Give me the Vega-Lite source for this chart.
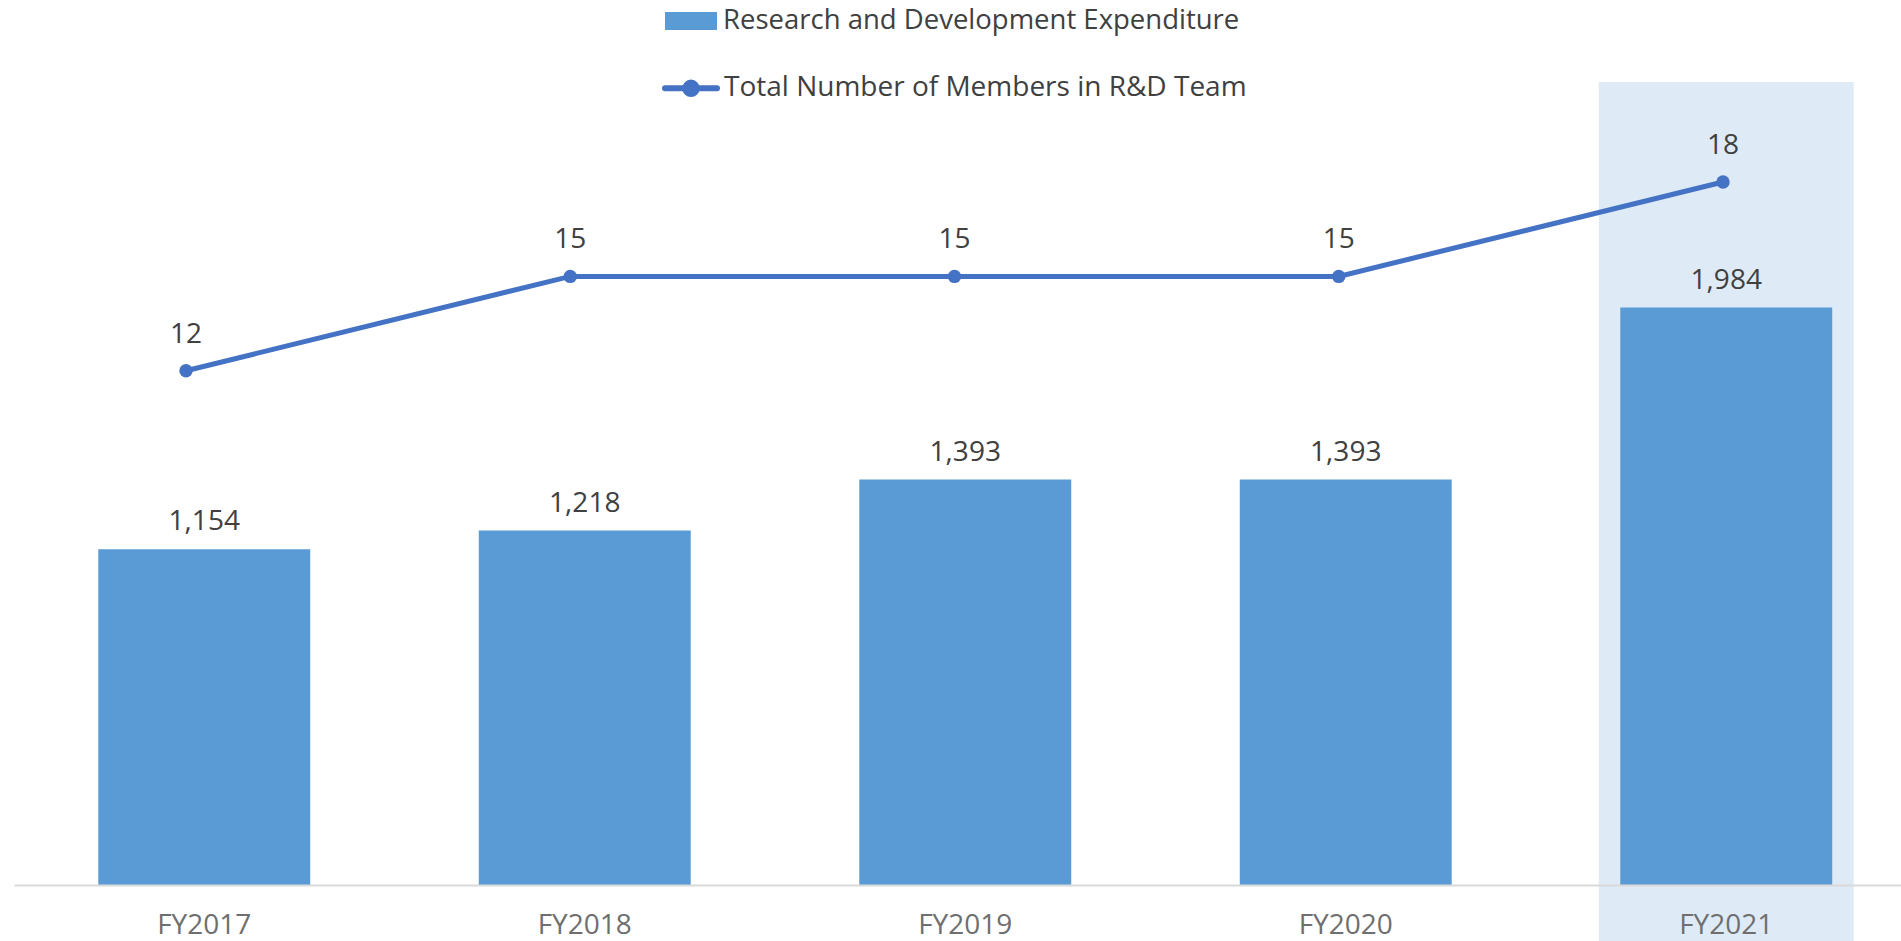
{
  "$schema": "https://vega.github.io/schema/vega-lite/v6.json",
  "autosize": {"type": "none"},
  "width": 1887,
  "height": 859,
  "padding": {"left": 14, "top": 82, "right": 0, "bottom": 0},
  "background": "#ffffff",
  "config": {"view": {"stroke": null}, "font": "Open Sans"},
  "data": {"values": [
    {"year": "FY2017", "expenditure": 1154, "members": 12},
    {"year": "FY2018", "expenditure": 1218, "members": 15},
    {"year": "FY2019", "expenditure": 1393, "members": 15},
    {"year": "FY2020", "expenditure": 1393, "members": 15},
    {"year": "FY2021", "expenditure": 1984, "members": 18}
  ]},
  "layer": [
    {
      "encoding": {
        "x": {"field": "year", "type": "nominal", "sort": null,
          "scale": {"type": "band", "domain": ["FY2017", "FY2018", "FY2019", "FY2020", "FY2021"], "range": [0, 1902.5], "paddingInner": 0, "paddingOuter": 0},
          "axis": {"title": null, "ticks": false, "domainColor": "#D9D9D9", "domainWidth": 2, "offset": -56, "zindex": 1,
            "labelFont": "Open Sans", "labelFontSize": 28, "labelColor": "#6f6f6f", "labelPadding": 26, "labelAngle": 0}}
      },
      "layer": [
        {
          "transform": [{"filter": "datum.year === 'FY2021'"}],
          "mark": {"type": "bar", "color": "#DEEBF7", "width": {"band": 0.67}},
          "encoding": {
            "y": {"datum": 2759, "type": "quantitative", "scale": {"domain": [-192.4, 2759], "nice": false, "zero": false}, "axis": null},
            "y2": {"datum": -192.4}
          }
        },
        {
          "mark": {"type": "bar", "width": {"band": 0.557}},
          "encoding": {
            "y": {"field": "expenditure", "type": "quantitative", "axis": null},
            "y2": {"datum": 0},
            "fill": {"datum": "Research and Development Expenditure", "type": "nominal",
              "scale": {"range": ["#5B9BD5"]},
              "legend": {"orient": "none", "legendX": 651, "legendY": -87, "title": null, "padding": 0,
                "symbolType": "M-1,-0.346L1,-0.346L1,0.346L-1,0.346Z", "symbolSize": 2704, "symbolStrokeWidth": 0,
                "labelFont": "Open Sans", "labelFontSize": 27.5, "labelColor": "#404040", "labelOffset": 6, "labelLimit": 900}}
          }
        },
        {
          "mark": {"type": "text", "baseline": "alphabetic", "dy": -19, "font": "Open Sans", "fontSize": 28, "color": "#404040"},
          "encoding": {
            "y": {"field": "expenditure", "type": "quantitative"},
            "text": {"field": "expenditure", "type": "quantitative", "format": ","}
          }
        }
      ]
    },
    {
      "encoding": {
        "x": {"field": "year", "type": "nominal", "sort": null,
          "scale": {"type": "point", "domain": ["FY2017", "FY2018", "FY2019", "FY2020", "FY2021"], "range": [172, 1709], "padding": 0}, "axis": null},
        "y": {"field": "members", "type": "quantitative", "scale": {"domain": [-6.13, 21.18], "nice": false, "zero": false}, "axis": null}
      },
      "layer": [
        {
          "mark": {"type": "line", "strokeWidth": 5},
          "encoding": {
            "stroke": {"datum": "Total Number of Members in R&D Team", "type": "nominal",
              "scale": {"range": ["#4472C4"]},
              "legend": {"orient": "none", "legendX": 648, "legendY": -22.7, "title": null, "padding": 0,
                "symbolType": "M-1,0L1,0M0.22,0A0.22,0.22,0,1,1,-0.22,0A0.22,0.22,0,1,1,0.22,0Z", "symbolSize": 2704, "symbolStrokeWidth": 6,
                "symbolFillColor": "#4472C4",
                "encode": {"symbols": {"update": {"fill": {"value": "#4472C4"}, "stroke": {"value": "#4472C4"}, "strokeCap": {"value": "round"}}}},
                "labelFont": "Open Sans", "labelFontSize": 28, "labelColor": "#404040", "labelOffset": 4, "labelLimit": 900}}
          }
        },
        {
          "mark": {"type": "point", "filled": true, "size": 180, "color": "#4472C4", "opacity": 1}
        },
        {
          "mark": {"type": "text", "baseline": "alphabetic", "dy": -28, "font": "Open Sans", "fontSize": 28, "color": "#404040"},
          "encoding": {
            "text": {"field": "members", "type": "quantitative"}
          }
        }
      ]
    }
  ],
  "resolve": {"scale": {"x": "independent", "y": "independent"}}
}
